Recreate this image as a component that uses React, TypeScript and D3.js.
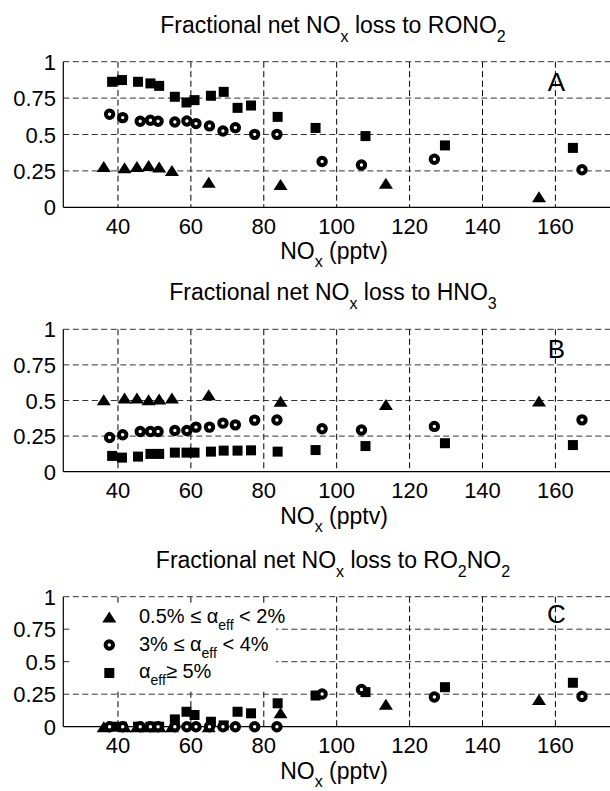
import React from 'react'
import { scaleLinear } from 'd3'

// NOx (pptv) positions of each marker group, shared by the three panels
const triNOx = [36.1, 41.8, 45.2, 48.4, 51.3, 54.8, 64.9, 84.6, 113.5, 155.5]
const circNOx = [37.7, 41.3, 46.1, 48.9, 51.0, 55.6, 58.9, 61.4, 65.1, 68.8, 72.2, 77.5, 83.6, 96.0, 106.8, 126.8, 167.3]
const sqNOx = [38.4, 41.1, 45.5, 48.9, 51.3, 55.6, 58.8, 61.0, 65.5, 69.0, 72.8, 76.5, 83.8, 94.2, 107.9, 129.7, 164.8]

// A: fraction to RONO2
const triA = [0.28, 0.271, 0.28, 0.287, 0.276, 0.253, 0.172, 0.156, 0.165, 0.073]
const circA = [0.639, 0.616, 0.591, 0.598, 0.591, 0.586, 0.593, 0.575, 0.559, 0.524, 0.547, 0.501, 0.501, 0.315, 0.291, 0.33, 0.258]
const sqA = [0.862, 0.874, 0.862, 0.851, 0.834, 0.759, 0.72, 0.736, 0.766, 0.793, 0.683, 0.699, 0.621, 0.545, 0.489, 0.425, 0.408]

// B: fraction to HNO3
const triB = [0.506, 0.518, 0.518, 0.506, 0.511, 0.518, 0.541, 0.494, 0.472, 0.497]
const circB = [0.24, 0.259, 0.282, 0.282, 0.282, 0.289, 0.289, 0.313, 0.313, 0.341, 0.329, 0.362, 0.363, 0.302, 0.293, 0.318, 0.364]
const sqB = [0.111, 0.099, 0.106, 0.125, 0.125, 0.134, 0.134, 0.134, 0.141, 0.148, 0.148, 0.15, 0.141, 0.152, 0.18, 0.2, 0.187]

// C: fraction to RO2NO2
const triC = [0, 0, 0, 0, 0, 0, 0, 0.108, 0.172, 0.21]
const circC = [0, 0, 0, 0, 0, 0, 0, 0, 0, 0, 0, 0, 0, 0.252, 0.286, 0.228, 0.232]
const sqC = [0, 0, 0, 0, 0, 0.056, 0.115, 0.09, 0.038, 0.01, 0.115, 0.103, 0.18, 0.24, 0.266, 0.304, 0.338]

const xTicks = [40, 60, 80, 100, 120, 140, 160]
const yTicks = [0, 0.25, 0.5, 0.75, 1]
const yTickLabels = ['0', '0.25', '0.5', '0.75', '1']
const legendLabels = [
  ['0.5% \u2264 \u03b1', 'eff', ' < 2%'],
  ['3% \u2264 \u03b1', 'eff', ' < 4%'],
  ['\u03b1', 'eff', '\u2265 5%'],
]

const font = '"Liberation Sans", Arial, Helvetica, sans-serif'
const left = 63.3
const right = 628.3
const x = scaleLinear().domain([25, 180]).range([left, right])

const panels = [
  { letter: 'A', title: ['Fractional net NO', 'x', ' loss to RONO', '2'], top: 61.7, bottom: 207.3, tri: triA, circ: circA, sq: sqA },
  { letter: 'B', title: ['Fractional net NO', 'x', ' loss to HNO', '3'], top: 329.3, bottom: 471.7, tri: triB, circ: circB, sq: sqB },
  { letter: 'C', title: ['Fractional net NO', 'x', ' loss to RO', '2', 'NO', '2'], top: 596.7, bottom: 726.7, tri: triC, circ: circC, sq: sqC },
]

const triPath = 'M0,-5.5L7,5.5L-7,5.5Z'

const Marker = ({ kind, cx, cy }) => {
  if (kind === 'tri') return <path d={triPath} transform={`translate(${cx},${cy})`} fill="#000" />
  if (kind === 'sq') return <rect x={cx - 5} y={cy - 5} width={10} height={10} fill="#000" />
  return <circle cx={cx} cy={cy} r={3.7} fill="#fff" stroke="#000" strokeWidth={4} />
}

// alternate normal / subscript pieces
const SubText = ({ parts, size, subSize, shift }) => (
  <>
    {parts.map((p, i) => (
      <tspan key={i} fontSize={i % 2 ? subSize : size} dy={i === 0 ? 0 : i % 2 ? shift : -shift}>{p}</tspan>
    ))}
  </>
)

const Panel = ({ p }) => {
  const y = scaleLinear().domain([0, 1]).range([p.bottom, p.top])
  const isC = p.letter === 'C'
  return (
    <g>
      <text x={333} y={p.top - 29} textAnchor="middle" fontSize={23}>
        <SubText parts={p.title} size={23} subSize={16} shift={9} />
      </text>
      {xTicks.map(t => (
        <line key={'v' + t} x1={x(t)} x2={x(t)} y1={p.top} y2={p.bottom} stroke="#000" strokeWidth={1} strokeDasharray="6,3.5" />
      ))}
      {yTicks.filter(t => t > 0).map(t => (
        <line key={'h' + t} x1={left} x2={right} y1={y(t)} y2={y(t)} stroke="#333" strokeWidth={1} strokeDasharray="6,3.5" />
      ))}
      <line x1={left} x2={left} y1={p.top} y2={p.bottom} stroke="#000" strokeWidth={1.2} />
      <line x1={left} x2={right} y1={p.bottom} y2={p.bottom} stroke="#000" strokeWidth={1.2} />
      {xTicks.map(t => (
        <text key={'xl' + t} x={x(t)} y={p.bottom + 26.5} textAnchor="middle" fontSize={22}>{t}</text>
      ))}
      {yTicks.map((t, i) => (
        <text key={'yl' + t} x={56} y={y(t) + 8} textAnchor="end" fontSize={22}>{yTickLabels[i]}</text>
      ))}
      <text x={x(163) - 10} y={y(0.8)} textAnchor="middle" fontSize={26}>{p.letter}</text>
      {isC && (
        <g>
          <rect x={71} y={603} width={205} height={87} fill="#fff" />
          {['tri', 'circ', 'sq'].map((k, i) => (
            <g key={k}>
              <Marker kind={k} cx={109.3} cy={617 + i * 28} />
              <text x={139} y={623 + i * 27.5} fontSize={20}>
                <SubText parts={legendLabels[i]} size={20} subSize={14} shift={7} />
              </text>
            </g>
          ))}
        </g>
      )}
      {p.sq.map((v, i) => <Marker key={'s' + i} kind="sq" cx={x(sqNOx[i])} cy={y(v)} />)}
      {p.tri.map((v, i) => <Marker key={'t' + i} kind="tri" cx={x(triNOx[i])} cy={y(v)} />)}
      {p.circ.map((v, i) => <Marker key={'c' + i} kind="circ" cx={x(circNOx[i])} cy={y(v)} />)}
      <text x={334} y={p.bottom + 52} textAnchor="middle" fontSize={23}>
        <SubText parts={['NO', 'x', ' (pptv)']} size={23} subSize={16} shift={8} />
      </text>
    </g>
  )
}

export default function App() {
  return (
    <svg width={610} height={791} style={{ position: 'absolute', left: 0, top: 0, background: '#fff' }} fontFamily={font}>
      <rect width={610} height={791} fill="#fff" />
      {panels.map(p => <Panel key={p.letter} p={p} />)}
    </svg>
  )
}
